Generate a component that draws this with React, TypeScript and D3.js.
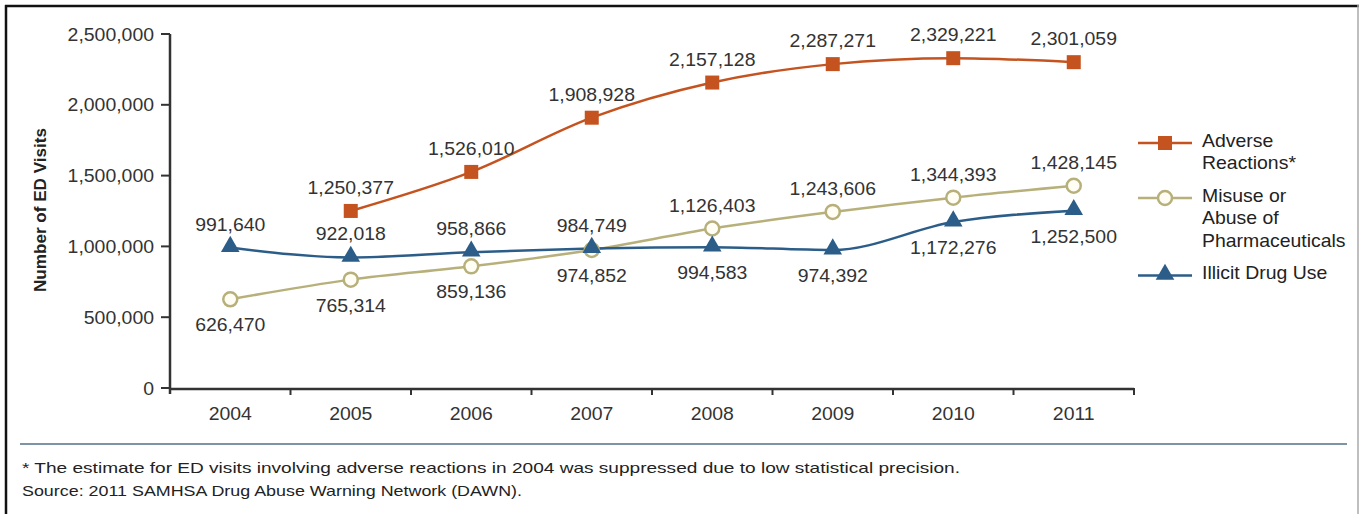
import { curveMonotoneX, format, line, scaleBand, scaleLinear, symbol, symbolTriangle } from "d3";
import type { ReactNode } from "react";

const W = 1365;
const H = 514;
const M = { top: 34, left: 170, right: 1134, bottom: 388 };

const years = ["2004", "2005", "2006", "2007", "2008", "2009", "2010", "2011"];
const yTicks = [0, 500000, 1000000, 1500000, 2000000, 2500000];

const adverse: (number | null)[] = [null, 1250377, 1526010, 1908928, 2157128, 2287271, 2329221, 2301059];
const misuse = [626470, 765314, 859136, 974852, 1126403, 1243606, 1344393, 1428145];
const illicit = [991640, 922018, 958866, 984749, 994583, 974392, 1172276, 1252500];

// where each value label sits relative to its point
const adversePos = ["up", "up", "up", "up", "up", "up", "up", "up"];
const misusePos = ["down", "down", "down", "down", "up", "up", "up", "up"];
const illicitPos = ["up", "up", "up", "up", "down", "down", "down", "down"];

const legendItems = [
  { lines: ["Adverse", "Reactions*"], color: "#c4531f", mark: "square" },
  { lines: ["Misuse or", "Abuse of", "Pharmaceuticals"], color: "#b8b07a", mark: "circle" },
  { lines: ["Illicit Drug Use"], color: "#2c5d88", mark: "triangle" },
];
const footnotes = [
  "* The estimate for ED visits involving adverse reactions in 2004 was suppressed due to low statistical precision.",
  "Source: 2011 SAMHSA Drug Abuse Warning Network (DAWN).",
];
const footWidths = [938, 500];

const C_ADV = "#c4531f";
const C_MIS = "#b8b07a";
const C_ILL = "#2c5d88";
const FONT = "Arial, 'Liberation Sans', Helvetica, sans-serif";
const SX = 1.08; // the source image is slightly stretched sideways
const fmt = format(",");

// text drawn with a small horizontal stretch around its anchor
function T({ x, y, anchor = "start", size = 18, fill = "#333", children }: {
  x: number; y: number; anchor?: "start" | "middle" | "end"; size?: number; fill?: string; children: ReactNode;
}) {
  return (
    <text transform={`translate(${x},${y}) scale(${SX},1)`} textAnchor={anchor} fontSize={size} fill={fill}>
      {children}
    </text>
  );
}

export default function App() {
  const x = scaleBand<string>().domain(years).range([M.left, M.right]);
  const cx = (i: number) => (x(years[i]) ?? 0) + x.bandwidth() / 2;
  const y = scaleLinear().domain([0, 2500000]).range([M.bottom, M.top]);

  const mk = (vals: (number | null)[]) =>
    line<number | null>()
      .defined((v) => v != null)
      .x((_, i) => cx(i))
      .y((v) => y(v as number))
      .curve(curveMonotoneX)(vals) ?? "";

  const tri = symbol().type(symbolTriangle).size(150)() ?? "";

  const labels = (vals: (number | null)[], pos: string[], key: string) =>
    vals.map((v, i) =>
      v == null ? null : (
        <T key={`${key}${i}`} x={cx(i)} y={y(v) + (pos[i] === "up" ? -17 : 32)} anchor="middle">
          {fmt(v)}
        </T>
      )
    );

  const marker = (kind: string, color: string, px: number, py: number, key?: string) => {
    if (kind === "square") return <rect key={key} x={px - 7} y={py - 7} width={14} height={14} fill={color} />;
    if (kind === "circle")
      return <circle key={key} cx={px} cy={py} r={7} fill="#fffdf4" stroke={color} strokeWidth={2.5} />;
    return <path key={key} d={tri} transform={`translate(${px},${py - 1})`} fill={color} />;
  };

  let ly = 143;
  const legend = legendItems.map((it) => {
    const top = ly;
    ly += it.lines.length * 22.5 + 10;
    return (
      <g key={it.mark}>
        <line x1={1138} x2={1192} y1={top} y2={top} stroke={it.color} strokeWidth={2.5} />
        {marker(it.mark, it.color, 1165, top)}
        {it.lines.map((s, j) => (
          <T key={s} x={1202} y={top + 3.5 + j * 22.5} fill="#222">
            {s}
          </T>
        ))}
      </g>
    );
  });

  return (
    <svg
      width={W}
      height={H}
      viewBox={`0 0 ${W} ${H}`}
      style={{ position: "absolute", left: 0, top: 0, background: "#fff" }}
      fontFamily={FONT}
    >
      {/* frame */}
      <line x1={6} x2={6} y1={5} y2={H} stroke="#111" strokeWidth={2.5} />
      <line x1={5} x2={1359} y1={6} y2={6} stroke="#111" strokeWidth={2.5} />
      <line x1={1358} x2={1358} y1={5} y2={H} stroke="#aaa" strokeWidth={1.5} />

      {/* y axis */}
      <line x1={M.left} x2={M.left} y1={M.top} y2={M.bottom + 6} stroke="#333" strokeWidth={2.5} />
      {yTicks.map((t) => (
        <g key={`y${t}`}>
          <line x1={M.left - 9} x2={M.left} y1={y(t)} y2={y(t)} stroke="#333" strokeWidth={2} />
          <T x={M.left - 16} y={y(t) + 6.5} anchor="end">
            {fmt(t)}
          </T>
        </g>
      ))}
      <text
        transform={`translate(46,210) rotate(-90)`}
        textAnchor="middle"
        fontSize={17}
        fontWeight="bold"
        fill="#222"
        textLength={164}
        lengthAdjust="spacingAndGlyphs"
      >
        Number of ED Visits
      </text>

      {/* x axis */}
      <line x1={M.left} x2={M.right} y1={M.bottom + 1} y2={M.bottom + 1} stroke="#333" strokeWidth={2.5} />
      {years.map((yr, i) => (
        <g key={yr}>
          <line
            x1={(x(yr) ?? 0) + x.bandwidth()}
            x2={(x(yr) ?? 0) + x.bandwidth()}
            y1={M.bottom}
            y2={M.bottom + 7}
            stroke="#333"
            strokeWidth={2}
          />
          <T x={cx(i)} y={420} anchor="middle">
            {yr}
          </T>
        </g>
      ))}

      {/* series */}
      <path d={mk(adverse)} fill="none" stroke={C_ADV} strokeWidth={2.5} />
      <path d={mk(misuse)} fill="none" stroke={C_MIS} strokeWidth={2.5} />
      <path d={mk(illicit)} fill="none" stroke={C_ILL} strokeWidth={2.5} />

      {adverse.map((v, i) => (v == null ? null : marker("square", C_ADV, cx(i), y(v), `a${i}`)))}
      {misuse.map((v, i) => marker("circle", C_MIS, cx(i), y(v), `m${i}`))}
      {illicit.map((v, i) => marker("triangle", C_ILL, cx(i), y(v), `i${i}`))}

      {labels(adverse, adversePos, "la")}
      {labels(misuse, misusePos, "lm")}
      {labels(illicit, illicitPos, "li")}

      {legend}

      {/* footer */}
      <line x1={20} x2={1347} y1={444} y2={444} stroke="#7d93a8" strokeWidth={2} />
      {footnotes.map((s, i) => (
        <text
          key={i}
          x={22}
          y={473 + i * 23}
          fontSize={15}
          fill="#222"
          textLength={footWidths[i]}
          lengthAdjust="spacingAndGlyphs"
        >
          {s}
        </text>
      ))}
    </svg>
  );
}
